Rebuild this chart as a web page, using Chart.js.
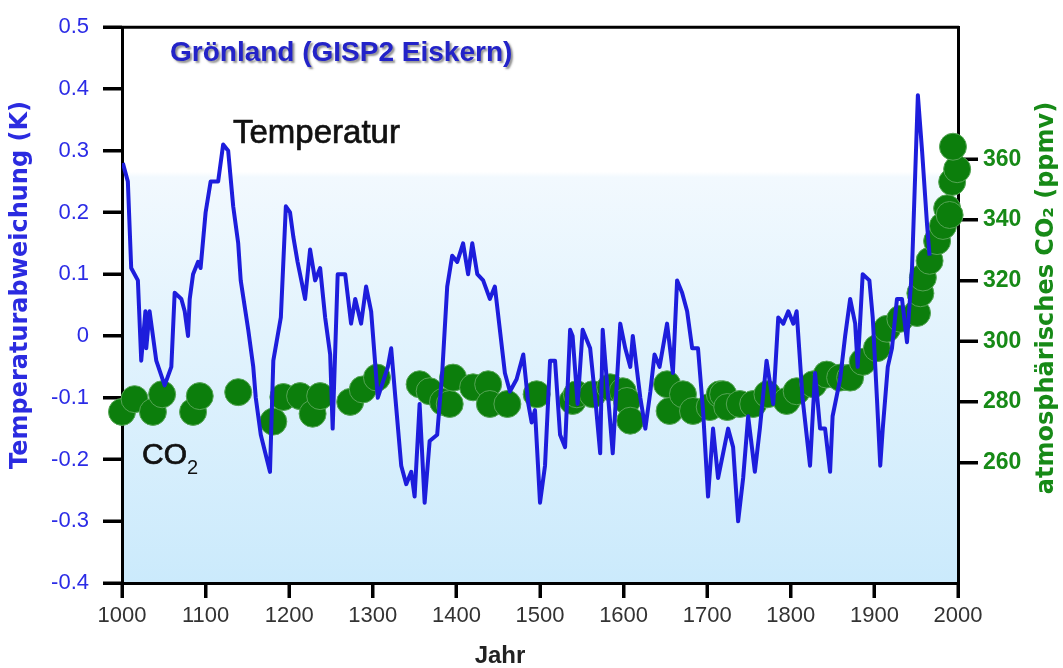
<!DOCTYPE html>
<html>
  <head>
    <meta charset="utf-8">
    <title>Grönland (GISP2 Eiskern)</title>
    <script src="https://cdn.jsdelivr.net/npm/chart.js"></script>
    <style>
      body { margin: 0; background: #fff; }
    </style>
  </head>
  <body>
	<div style="width:1063px; height:668px">
		<canvas id="GispChart"></canvas>
	</div>
    <script>
	// Temperaturabweichung (K)
	var tempYears = [1001, 1007, 1011, 1019, 1023, 1028, 1029, 1033, 1041, 1051, 1059, 1063, 1071, 1075, 1079, 1081, 1085, 1091, 1094, 1100,
		1106, 1115, 1121, 1127, 1133, 1139, 1142, 1151, 1157, 1160, 1166, 1177, 1181, 1190, 1196, 1201, 1205, 1210, 1219, 1225,
		1231, 1237, 1243, 1249, 1252, 1258, 1267, 1274, 1279, 1286, 1292, 1298, 1306, 1318, 1322, 1327, 1334, 1340, 1346, 1350,
		1356, 1362, 1368, 1377, 1383, 1389, 1395, 1401, 1408, 1414, 1419, 1425, 1432, 1440, 1446, 1452, 1458, 1464, 1472, 1480,
		1486, 1490, 1494, 1500, 1506, 1512, 1518, 1524, 1530, 1536, 1539, 1545, 1551, 1560, 1566, 1572, 1575, 1581, 1587, 1596,
		1602, 1608, 1611, 1620, 1626, 1632, 1637, 1643, 1652, 1659, 1664, 1670, 1676, 1682, 1689, 1695, 1701, 1707, 1713, 1719,
		1725, 1731, 1737, 1743, 1749, 1757, 1763, 1771, 1779, 1785, 1791, 1797, 1803, 1807, 1814, 1823, 1829, 1835, 1841, 1847,
		1850, 1859, 1865, 1871, 1877, 1880, 1886, 1894, 1898, 1903, 1907, 1910, 1916, 1921, 1927, 1933, 1939, 1945, 1949, 1952,
		1957, 1963, 1966];
	var tempValues = [0.28, 0.25, 0.11, 0.09, -0.04, 0.04, -0.02, 0.04, -0.04, -0.08, -0.05, 0.07, 0.06, 0.04, 0.00, 0.06, 0.10, 0.12, 0.11, 0.20,
		0.25, 0.25, 0.31, 0.30, 0.21, 0.15, 0.09, 0.01, -0.05, -0.10, -0.16, -0.22, -0.04, 0.03, 0.21, 0.20, 0.16, 0.12, 0.06, 0.14,
		0.09, 0.11, 0.03, -0.03, -0.15, 0.10, 0.10, 0.02, 0.06, 0.02, 0.08, 0.04, -0.10, -0.05, -0.02, -0.10, -0.21, -0.24, -0.22, -0.26,
		-0.11, -0.27, -0.17, -0.16, -0.06, 0.08, 0.13, 0.12, 0.15, 0.10, 0.15, 0.10, 0.09, 0.06, 0.08, 0.01, -0.06, -0.09, -0.07, -0.03,
		-0.11, -0.14, -0.12, -0.27, -0.21, -0.04, -0.04, -0.16, -0.18, 0.01, 0.00, -0.11, 0.01, -0.02, -0.10, -0.19, 0.01, -0.09, -0.19, 0.02,
		-0.02, -0.05, 0.00, -0.10, -0.15, -0.09, -0.03, -0.05, 0.02, -0.06, 0.09, 0.07, 0.04, -0.02, -0.02, -0.12, -0.26, -0.15, -0.23, -0.19,
		-0.15, -0.18, -0.30, -0.23, -0.13, -0.22, -0.15, -0.04, -0.11, 0.03, 0.02, 0.04, 0.02, 0.04, -0.10, -0.21, -0.06, -0.15, -0.15, -0.22,
		-0.13, -0.07, 0.00, 0.06, 0.02, -0.05, 0.10, 0.09, 0.03, -0.10, -0.21, -0.15, -0.05, -0.02, 0.06, 0.06, -0.01, 0.11, 0.27, 0.39,
		0.30, 0.18, 0.13];

	// atmosphaerisches CO2 (ppmv)
	var co2Years = [1000, 1015, 1037, 1048, 1085, 1093, 1139, 1181, 1193, 1213, 1228, 1237, 1273, 1288, 1305, 1356, 1368, 1384, 1392, 1396,
		1420, 1438, 1440, 1461, 1496, 1539, 1544, 1563, 1584, 1599, 1604, 1608, 1652, 1655, 1671, 1683, 1703, 1715, 1719, 1724,
		1739, 1755, 1772, 1795, 1807, 1827, 1843, 1859, 1871, 1886, 1903, 1915, 1931, 1951, 1955, 1958, 1966, 1975, 1982, 1987,
		1990, 1993, 1999, 1994];
	var co2Values = [276.7, 280.9, 276.7, 282.5, 276.7, 281.9, 283.2, 273.5, 281.6, 281.9, 276.1, 281.9, 280.0, 284.1, 288.0, 285.8, 283.5, 280.0, 279.3, 288.0,
		284.8, 285.8, 279.3, 279.3, 282.5, 280.3, 282.5, 282.5, 284.8, 283.5, 280.3, 273.8, 285.8, 277.0, 282.5, 277.0, 278.3, 282.5, 282.5, 278.3,
		279.3, 279.3, 282.5, 280.3, 283.5, 285.8, 289.0, 288.0, 288.0, 293.2, 297.7, 304.1, 307.4, 309.3, 315.8, 321.0, 326.5, 333.0, 338.0, 343.8,
		341.6, 352.5, 356.7, 364.1];

	var yearTicks = [1000, 1100, 1200, 1300, 1400, 1500, 1600, 1700, 1800, 1900, 2000];
	var tempTicks = [-0.4, -0.3, -0.2, -0.1, 0, 0.1, 0.2, 0.3, 0.4, 0.5];
	var co2Ticks = [260, 280, 300, 320, 340, 360];

	var tickFont = { family: '"Liberation Sans", Arial, sans-serif', size: 22 };
	var gridOpts = function(len) {
		return { drawOnChartArea: false, drawTicks: true, tickLength: len, color: '#000', lineWidth: 3, tickColor: '#000', tickWidth: 3 };
	};

	const backgroundPlugin = {
		id: 'background',
		beforeDraw: function(chart) {
			const ctx = chart.ctx, a = chart.chartArea;
			ctx.save();
			ctx.fillStyle = '#ffffff';
			ctx.fillRect(0, 0, chart.width, chart.height);
			const g = ctx.createLinearGradient(0, a.top, 0, a.bottom);
			g.addColorStop(0, '#ffffff');
			g.addColorStop(0.26, '#ffffff');
			g.addColorStop(0.27, '#f2f9fe');
			g.addColorStop(0.55, '#e2f3fd');
			g.addColorStop(1, '#cbeafc');
			ctx.fillStyle = g;
			ctx.fillRect(a.left, a.top, a.right - a.left, a.bottom - a.top);
			ctx.restore();
		},
		beforeDatasetsDraw: function(chart) {
			// Rahmen oben und Teilstriche nach aussen
			const ctx = chart.ctx, a = chart.chartArea;
			const sx = chart.scales.x, sy = chart.scales.y, s2 = chart.scales.y2;
			ctx.save();
			ctx.strokeStyle = '#000';
			ctx.lineWidth = 3;
			ctx.beginPath();
			ctx.moveTo(a.left, a.top);
			ctx.lineTo(a.right + 1, a.top);
			yearTicks.forEach(function(v) {
				const px = Math.round(sx.getPixelForValue(v));
				ctx.moveTo(px, a.bottom);
				ctx.lineTo(px, a.bottom + 15);
			});
			tempTicks.forEach(function(v) {
				const py = Math.round(sy.getPixelForValue(v));
				ctx.moveTo(a.left - 19, py);
				ctx.lineTo(a.left, py);
			});
			co2Ticks.forEach(function(v) {
				const py = Math.round(s2.getPixelForValue(v));
				ctx.moveTo(a.right, py);
				ctx.lineTo(a.right + 20, py);
			});
			ctx.stroke();
			ctx.restore();
		}
	};

	const labelPlugin = {
		id: 'labels',
		afterDraw: function(chart) {
			const ctx = chart.ctx;
			ctx.save();

			// Titel mit Schatten
			ctx.font = 'bold 28px "Liberation Sans"';
			ctx.textAlign = 'left';
			ctx.textBaseline = 'alphabetic';
			ctx.shadowColor = 'rgba(110,110,110,0.75)';
			ctx.shadowOffsetX = 2;
			ctx.shadowOffsetY = 2;
			ctx.shadowBlur = 2;
			ctx.fillStyle = '#2323c8';
			ctx.fillText('Grönland (GISP2 Eiskern)', 170, 61);
			ctx.shadowColor = 'transparent';

			ctx.fillStyle = '#111';
			ctx.strokeStyle = '#111';
			ctx.lineWidth = 0.7;
			ctx.font = '33px "Liberation Sans"';
			ctx.fillText('Temperatur', 233, 143);
			ctx.strokeText('Temperatur', 233, 143);

			ctx.font = '30px "Liberation Sans"';
			ctx.fillText('CO', 142, 464);
			ctx.strokeText('CO', 142, 464);
			ctx.font = '20px "Liberation Sans"';
			ctx.fillText('2', 187, 474);

			ctx.fillStyle = '#222';
			ctx.font = 'bold 24px "Liberation Sans"';
			ctx.textAlign = 'center';
			ctx.fillText('Jahr', 500, 663);

			ctx.textBaseline = 'middle';
			ctx.save();
			ctx.translate(21, 285);
			ctx.rotate(-Math.PI / 2);
			ctx.fillStyle = '#2b2be0';
			ctx.font = 'bold 24px "DejaVu Sans"';
			ctx.fillText('Temperaturabweichung (K)', 0, 0);
			ctx.restore();

			ctx.save();
			ctx.translate(1047, 298);
			ctx.rotate(-Math.PI / 2);
			ctx.fillStyle = '#178a17';
			ctx.font = 'bold 24px "DejaVu Sans"';
			ctx.fillText('atmosphärisches CO₂ (ppmv)', 0, 0);
			ctx.restore();

			ctx.restore();
		}
	};

	const config = {
		type: 'line',
		data: {
			datasets: [{
				label: 'Temperatur',
				data: tempYears.map(function(x, i) { return { x: x, y: tempValues[i] }; }),
				yAxisID: 'y',
				borderColor: '#1d1ddc',
				borderWidth: 4,
				borderJoinStyle: 'round',
				pointRadius: 0,
				tension: 0,
				order: 0
			}, {
				label: 'CO2',
				type: 'scatter',
				data: co2Years.map(function(x, i) { return { x: x, y: co2Values[i] }; }),
				yAxisID: 'y2',
				showLine: false,
				pointRadius: 13.5,
				backgroundColor: '#0c7e0c',
				borderColor: '#55a555',
				borderWidth: 1,
				clip: false,
				order: 1
			}]
		},
		options: {
			responsive: true,
			maintainAspectRatio: false,
			animation: false,
			layout: { padding: { top: 15, left: 0, right: 0, bottom: 0 } },
			plugins: {
				legend: { display: false },
				tooltip: { enabled: false }
			},
			scales: {
				x: {
					type: 'linear',
					min: 1000,
					max: 2000,
					afterBuildTicks: function(s) { s.ticks = yearTicks.map(function(v) { return { value: v }; }); },
					afterFit: function(s) { s.height = 85; },
					ticks: { color: '#333', font: tickFont, padding: 5, maxRotation: 0, callback: function(v) { return String(v); } },
					grid: gridOpts(15),
					border: { display: true, color: '#000', width: 3 }
				},
				y: {
					position: 'left',
					min: -0.4,
					max: 0.5,
					afterBuildTicks: function(s) { s.ticks = tempTicks.map(function(v) { return { value: v }; }); },
					afterFit: function(s) { s.width = 122; },
					ticks: { color: '#2b2be6', font: tickFont, padding: 14, callback: function(v) { return String(v); } },
					grid: gridOpts(19),
					border: { display: true, color: '#000', width: 3 }
				},
				y2: {
					position: 'right',
					min: 220.3,
					max: 403.5,
					afterBuildTicks: function(s) { s.ticks = co2Ticks.map(function(v) { return { value: v }; }); },
					afterFit: function(s) { s.width = 105; },
					ticks: { color: '#178a17', font: { family: '"Liberation Sans", Arial, sans-serif', size: 23, weight: 'bold' }, padding: 5, callback: function(v) { return String(v); } },
					grid: gridOpts(20),
					border: { display: true, color: '#000', width: 3 }
				}
			}
		},
		plugins: [backgroundPlugin, labelPlugin]
	};

	const GispChart = new Chart(document.getElementById('GispChart'), config);
    </script>
  </body>
</html>
